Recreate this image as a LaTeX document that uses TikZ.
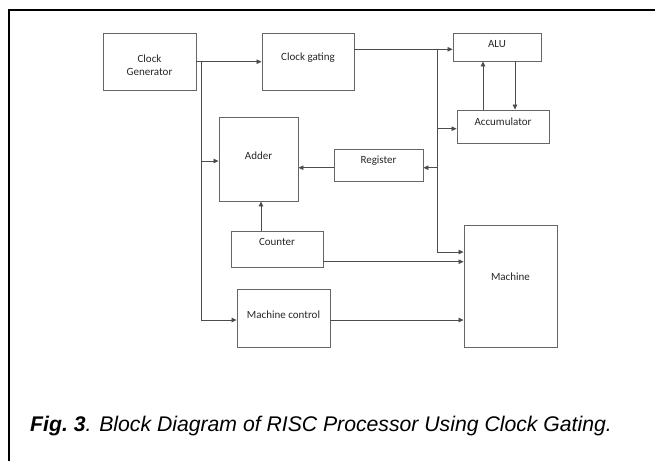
\documentclass[tikz,border=0pt]{standalone}
\usepackage{fontspec}
\setmainfont{Carlito}
\newfontfamily\capfont{Liberation Sans}
\usetikzlibrary{arrows.meta}
\begin{document}
\begin{tikzpicture}[x=1pt,y=-1pt,
  blk/.style={draw=black!60, line width=0.9pt, inner sep=0pt},
  lbl/.style={font=\fontsize{11}{13.5}\selectfont, align=center, text=black!85},
  wire/.style={draw=black!70, line width=0.8pt},
  arr/.style={wire, -{Triangle[length=5pt,width=4.5pt]}}]
\useasboundingbox (0,0) rectangle (655,461);
% partial frame
\draw[line width=1.6pt] (9,461) -- (9,10) -- (655,10);

% blocks
\node[blk, minimum width=93pt, minimum height=57pt] (cg)   at (149.5,61.5) {};
\node[blk, minimum width=92pt, minimum height=57pt] (gate) at (308,61.5) {};
\node[blk, minimum width=88pt, minimum height=28pt] (alu)  at (497,47) {};
\node[blk, minimum width=92pt, minimum height=33pt] (acc)  at (503,126.5) {};
\node[blk, minimum width=79pt, minimum height=84pt] (add)  at (258.5,159) {};
\node[blk, minimum width=89pt, minimum height=32pt] (reg)  at (378.5,165) {};
\node[blk, minimum width=92pt, minimum height=36pt] (cnt)  at (277,249) {};
\node[blk, minimum width=93pt, minimum height=122pt] (mach) at (510.5,286) {};
\node[blk, minimum width=93pt, minimum height=58pt] (mctl) at (283.5,318) {};

% labels
\node[lbl] (tcg)   at (149.5,65) {Clock\\Generator};
\node[lbl] (tgate) at (308,58) {Clock gating};
\node[lbl] (talu)  at (497,44) {ALU};
\node[lbl] (tacc)  at (503,122) {Accumulator};
\node[lbl] (tadd)  at (258.5,156) {Adder};
\node[lbl] (treg)  at (378.5,161) {Register};
\node[lbl] (tcnt)  at (277,242) {Counter};
\node[lbl] (tmach) at (510.5,277) {Machine};
\node[lbl] (tmctl) at (283.5,315) {Machine control};

% clock distribution points
\coordinate (ja) at (201,61.7);
\coordinate (jb) at (437,49.3);

% clock generator
\draw[arr] (cg.east |- ja) -- (gate.west |- ja);
\draw[wire] (ja) -- (ja |- 0,320) coordinate (jaend);
\draw[arr] (jaend) -- (mctl.west |- jaend);
\draw[arr] (ja |- 0,161) -- (add.west |- 0,161);

% clock gating
\draw[arr] (gate.east |- jb) -- (alu.west |- jb);
\draw[wire] (jb) -- (jb |- 0,252) coordinate (jbend);
\draw[arr] (jbend) -- (mach.west |- jbend);
\draw[arr] (jb |- 0,128.7) -- (acc.west |- 0,128.7);
\draw[arr] (jb |- 0,167.7) -- (reg.east |- 0,167.7);

% data paths
\draw[arr] (reg.west |- 0,167.7) -- (add.east |- 0,167.7);
\draw[arr] (cnt.north -| 261,0) -- (add.south -| 261,0);
\draw[arr] (cnt.east |- 0,261.7) -- (mach.west |- 0,261.7);
\draw[arr] (mctl.east |- 0,320) -- (mach.west |- 0,320);
\draw[arr] (acc.north -| 483,0) -- (alu.south -| 483,0);
\draw[arr] (alu.south -| 515,0) -- (acc.north -| 515,0);

% caption
\node[anchor=base west, inner sep=0pt, font=\capfont\fontsize{21.2}{25}\selectfont] (cap) at (30,431)
  {\textbf{\textit{Fig.~3}}\textit{. Block Diagram of RISC Processor Using Clock Gating.}};
\end{tikzpicture}
\end{document}
